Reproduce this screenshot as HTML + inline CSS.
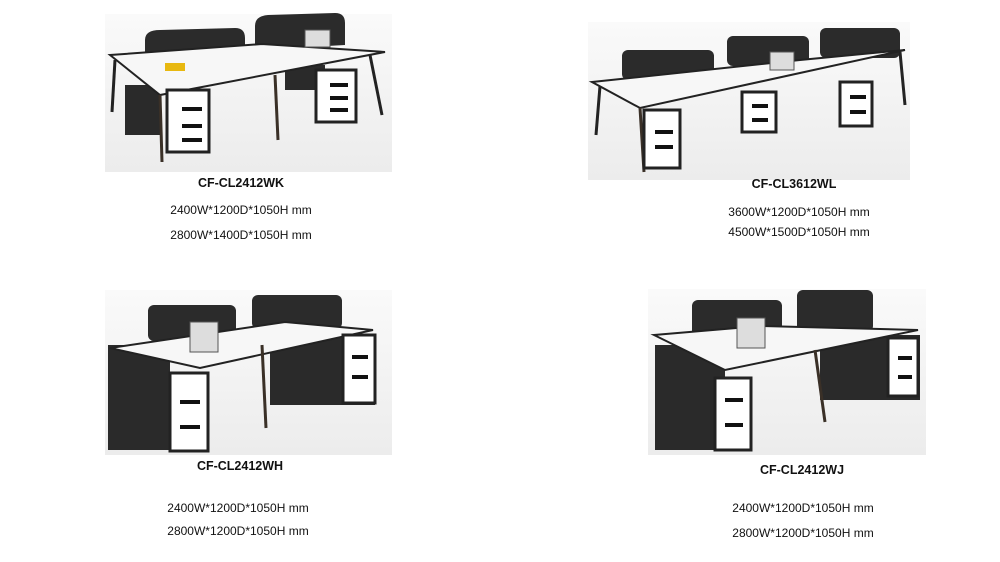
<!DOCTYPE html>
<html><head><meta charset="utf-8"><style>
body{margin:0;width:1000px;height:562px;background:#fff;position:relative;overflow:hidden;font-family:"Liberation Sans",Arial,sans-serif;color:#111}
.t{position:absolute;font-size:12px;white-space:nowrap;transform:translateX(-50%)}
.b{font-weight:bold;font-size:12.5px}
svg{position:absolute;left:0;top:0}
</style></head><body>
<svg width="1000" height="562" viewBox="0 0 1000 562">
<defs><linearGradient id="bg" x1="0" y1="0" x2="0" y2="1"><stop offset="0" stop-color="#fafafa"/><stop offset="1" stop-color="#ececec"/></linearGradient></defs>
<!-- TL -->
<rect x="105" y="14" width="287" height="158" fill="url(#bg)"/>
<path d="M145,40 Q145,30 160,30 L235,28 Q245,28 245,38 L245,55 L145,62Z" fill="#2b2b2b"/>
<path d="M255,26 Q255,16 268,15 L335,13 Q345,13 345,23 L345,45 L255,50Z" fill="#2b2b2b"/>
<rect x="125" y="85" width="35" height="50" fill="#2a2a2a"/>
<rect x="285" y="65" width="40" height="25" fill="#2a2a2a"/>
<polygon points="110,55 262,44 385,52 160,95" fill="#f7f7f7" stroke="#222" stroke-width="2"/>
<line x1="115" y1="60" x2="112" y2="112" stroke="#222" stroke-width="3"/>
<line x1="160" y1="95" x2="162" y2="162" stroke="#3a3027" stroke-width="3"/>
<line x1="275" y1="75" x2="278" y2="140" stroke="#3a3027" stroke-width="3"/>
<line x1="370" y1="55" x2="382" y2="115" stroke="#222" stroke-width="3"/>
<rect x="167" y="90" width="42" height="62" fill="#fff" stroke="#222" stroke-width="3"/>
<rect x="316" y="70" width="40" height="52" fill="#fff" stroke="#222" stroke-width="3"/>
<g fill="#111"><rect x="182" y="107" width="20" height="4"/><rect x="182" y="124" width="20" height="4"/><rect x="182" y="138" width="20" height="4"/><rect x="330" y="83" width="18" height="4"/><rect x="330" y="96" width="18" height="4"/><rect x="330" y="108" width="18" height="4"/></g>
<rect x="305" y="30" width="25" height="17" fill="#ddd" stroke="#555"/>
<rect x="165" y="63" width="20" height="8" fill="#e8b810"/>
<!-- TR -->
<rect x="588" y="22" width="322" height="158" fill="url(#bg)"/>
<rect x="622" y="50" width="92" height="30" rx="6" fill="#2b2b2b"/>
<rect x="727" y="36" width="82" height="30" rx="6" fill="#2b2b2b"/>
<rect x="820" y="28" width="80" height="30" rx="6" fill="#2b2b2b"/>
<polygon points="592,82 800,60 905,50 640,108" fill="#f7f7f7" stroke="#222" stroke-width="2"/>
<line x1="600" y1="86" x2="596" y2="135" stroke="#222" stroke-width="3"/>
<line x1="640" y1="108" x2="644" y2="172" stroke="#3a3027" stroke-width="3"/>
<line x1="900" y1="52" x2="905" y2="105" stroke="#222" stroke-width="3"/>
<rect x="644" y="110" width="36" height="58" fill="#fff" stroke="#222" stroke-width="3"/>
<rect x="742" y="92" width="34" height="40" fill="#fff" stroke="#222" stroke-width="3"/>
<rect x="840" y="82" width="32" height="44" fill="#fff" stroke="#222" stroke-width="3"/>
<g fill="#111"><rect x="655" y="130" width="18" height="4"/><rect x="655" y="145" width="18" height="4"/><rect x="752" y="104" width="16" height="4"/><rect x="752" y="118" width="16" height="4"/><rect x="850" y="95" width="16" height="4"/><rect x="850" y="110" width="16" height="4"/></g>
<rect x="770" y="52" width="24" height="18" fill="#ddd" stroke="#555"/>
<!-- BL -->
<rect x="105" y="290" width="287" height="165" fill="url(#bg)"/>
<rect x="148" y="305" width="88" height="36" rx="6" fill="#2b2b2b"/>
<rect x="252" y="295" width="90" height="34" rx="6" fill="#2b2b2b"/>
<rect x="108" y="345" width="62" height="105" fill="#2a2a2a"/>
<rect x="270" y="335" width="105" height="70" fill="#2a2a2a"/>
<polygon points="110,348 285,322 373,330 200,368" fill="#f7f7f7" stroke="#222" stroke-width="2"/>
<rect x="170" y="373" width="38" height="78" fill="#fff" stroke="#222" stroke-width="3"/>
<rect x="343" y="335" width="32" height="68" fill="#fff" stroke="#222" stroke-width="3"/>
<g fill="#111"><rect x="180" y="400" width="20" height="4"/><rect x="180" y="425" width="20" height="4"/><rect x="352" y="355" width="16" height="4"/><rect x="352" y="375" width="16" height="4"/></g>
<line x1="262" y1="345" x2="266" y2="428" stroke="#3a3027" stroke-width="3"/>
<rect x="190" y="322" width="28" height="30" fill="#ddd" stroke="#555"/>
<!-- BR -->
<rect x="648" y="289" width="278" height="166" fill="url(#bg)"/>
<rect x="692" y="300" width="90" height="42" rx="6" fill="#2b2b2b"/>
<rect x="797" y="290" width="76" height="42" rx="6" fill="#2b2b2b"/>
<rect x="655" y="345" width="70" height="105" fill="#2a2a2a"/>
<rect x="820" y="335" width="100" height="65" fill="#2a2a2a"/>
<polygon points="654,335 760,326 918,330 725,370" fill="#f7f7f7" stroke="#222" stroke-width="2"/>
<rect x="715" y="378" width="36" height="72" fill="#fff" stroke="#222" stroke-width="3"/>
<rect x="888" y="338" width="30" height="58" fill="#fff" stroke="#222" stroke-width="3"/>
<g fill="#111"><rect x="725" y="398" width="18" height="4"/><rect x="725" y="423" width="18" height="4"/><rect x="898" y="356" width="14" height="4"/><rect x="898" y="375" width="14" height="4"/></g>
<line x1="815" y1="350" x2="825" y2="422" stroke="#3a3027" stroke-width="3"/>
<rect x="737" y="318" width="28" height="30" fill="#ddd" stroke="#555"/>
</svg>
<div class="t b" style="left:241px;top:176px">CF-CL2412WK</div>
<div class="t" style="left:241px;top:203px">2400W*1200D*1050H mm</div>
<div class="t" style="left:241px;top:228px">2800W*1400D*1050H mm</div>
<div class="t b" style="left:794px;top:177px">CF-CL3612WL</div>
<div class="t" style="left:799px;top:205px">3600W*1200D*1050H mm</div>
<div class="t" style="left:799px;top:225px">4500W*1500D*1050H mm</div>
<div class="t b" style="left:240px;top:459px">CF-CL2412WH</div>
<div class="t" style="left:238px;top:501px">2400W*1200D*1050H mm</div>
<div class="t" style="left:238px;top:524px">2800W*1200D*1050H mm</div>
<div class="t b" style="left:802px;top:463px">CF-CL2412WJ</div>
<div class="t" style="left:803px;top:501px">2400W*1200D*1050H mm</div>
<div class="t" style="left:803px;top:526px">2800W*1200D*1050H mm</div>
</body></html>
